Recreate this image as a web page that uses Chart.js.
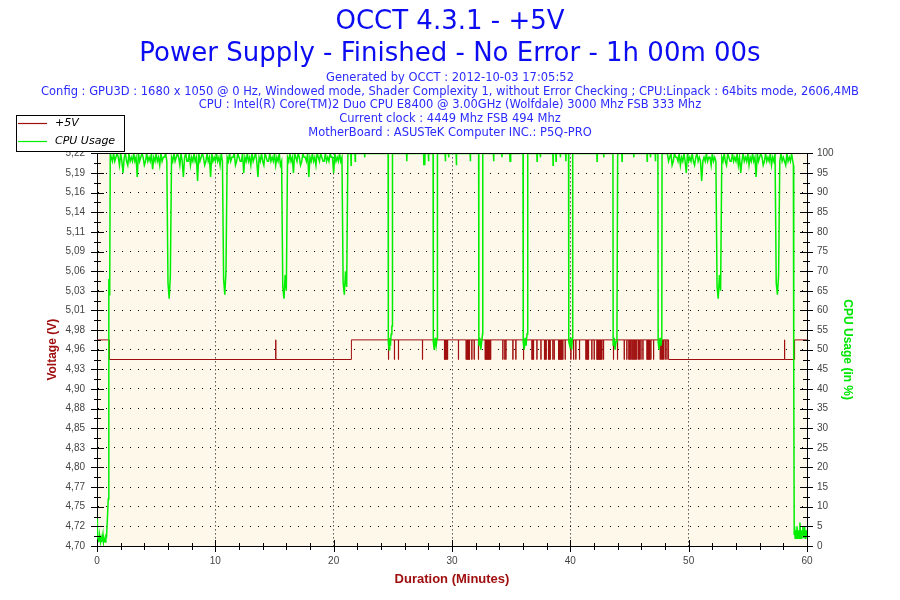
<!DOCTYPE html>
<html>
<head>
<meta charset="utf-8">
<title>OCCT 4.3.1 - +5V</title>
<script src="https://cdn.jsdelivr.net/npm/chart.js@4.4.0/dist/chart.umd.min.js"></script>
<style>
  html, body { margin: 0; padding: 0; background: #fff; }
</style>
</head>
<body>
<canvas id="occtChart" width="900" height="600"></canvas>
<script>
const titleLines = ["OCCT 4.3.1 - +5V", "Power Supply - Finished - No Error - 1h 00m 00s"];
const infoLines = [
  "Generated by OCCT : 2012-10-03 17:05:52",
  "Config : GPU3D : 1680 x 1050 @ 0 Hz, Windowed mode, Shader Complexity 1, without Error Checking ; CPU:Linpack : 64bits mode, 2606,4MB",
  "CPU : Intel(R) Core(TM)2 Duo CPU E8400 @ 3.00GHz (Wolfdale) 3000 Mhz FSB 333 Mhz",
  "Current clock : 4449 Mhz FSB 494 Mhz",
  "MotherBoard : ASUSTeK Computer INC.: P5Q-PRO"
];

// left axis, 20 equal steps between 4.70 and 5.22 (labels as OCCT prints them)
const voltTickValues = [4.70, 4.726, 4.752, 4.778, 4.804, 4.83, 4.856, 4.882, 4.908, 4.934, 4.96,
  4.986, 5.012, 5.038, 5.064, 5.09, 5.116, 5.142, 5.168, 5.194, 5.22];
const voltTickLabels = ["4,70", "4,72", "4,75", "4,77", "4,80", "4,83", "4,85", "4,88", "4,90", "4,93", "4,96",
  "4,98", "5,01", "5,03", "5,06", "5,09", "5,11", "5,14", "5,16", "5,19", "5,22"];

// +5V: the sensor only shows two readings
const voltLow = 4.947;
const voltHigh = 4.973;
// [minute, volts] level held from that minute on
const voltPhases = [[0, voltHigh], [1.05, voltLow], [21.5, voltHigh], [48.3, voltLow], [58.95, voltHigh], [60, voltHigh]];
// minutes where the reading flips to the other level for one sample
const voltFlickers = [15.1, 24.63, 25.13, 25.47, 27.5, 29.36, 29.42, 29.48, 29.55, 29.62, 30.54,
  31.19, 31.25, 31.31, 31.37, 31.43, 31.47, 31.67, 31.87, 32.23,
  32.80, 32.85, 32.90, 32.96, 33.02, 33.08, 33.14, 33.20, 33.26, 34.29, 34.46, 34.55, 35.14, 35.39,
  36.04, 36.75, 36.82, 36.88, 37.17, 37.51, 37.81, 37.88, 37.95, 38.15, 38.22, 38.29, 38.52, 38.63,
  39.00, 39.06, 39.12, 39.18, 39.24, 39.30, 39.36, 39.56, 40.04, 40.27, 40.46, 40.77,
  41.31, 41.38, 41.45, 41.53, 41.81, 42.01, 42.24, 42.30, 42.36, 42.42, 42.48, 42.54, 42.60, 42.66,
  42.80, 43.64, 43.98, 44.55, 44.77, 44.94, 45.02, 45.10, 45.20, 45.28, 45.36, 45.44, 45.52, 45.61,
  45.75, 45.85, 45.96, 46.13, 46.47, 46.53, 46.59, 46.65, 46.71, 46.80, 47.03,
  47.59, 47.68, 47.78, 47.87, 48.01, 48.16, 58.1];
const sampleLength = 1 / 60; // one second, in minutes

// CPU usage [minute, %]
const cpuStartup = [[0, 7], [0.03, 2], [0.1, 2], [0.15, 1], [0.2, 3], [0.3, 1], [0.35, 2], [0.4, 1], [0.5, 3],
  [0.55, 1], [0.6, 2], [0.7, 1], [0.75, 3], [0.8, 2], [0.88, 7], [0.95, 12], [1.0, 68], [1.03, 64],
  [1.06, 70], [1.09, 66], [1.12, 100]];

// busy stretches, one reading every 0.1 minute
const busyStep = 0.1;
const cpuBusyAStart = 1.2;
const cpuBusyA = [
  99, 98, 100, 98, 99, 100, 99, 97, 100, 98,
  95, 99, 100, 98, 97, 100, 98, 99, 98, 100,
  98, 99, 94, 100, 98, 99, 100, 99, 97, 98,
  100, 98, 99, 98, 100, 96, 99, 98, 100, 98,
  99, 97, 100, 98, 99, 99, 100, 98, 67, 63,
  69, 99, 98, 100, 98, 99, 100, 99, 97, 100,
  98, 94, 99, 100, 98, 98, 100, 97, 99, 98,
  100, 98, 99, 93, 100, 98, 99, 100, 99, 97,
  98, 100, 98, 99, 94, 100, 98, 99, 98, 100,
  98, 99, 97, 100, 98, 68, 64, 70, 99, 98,
  100, 98, 99, 99, 100, 97, 98, 100, 99, 98,
  98, 100, 95, 99, 98, 100, 98, 99, 97, 100,
  98, 99, 100, 98, 94, 99, 98, 100, 98, 97,
  100, 99, 98, 98, 100, 98, 99, 98, 100, 97,
  99, 98, 100, 97, 98, 66, 63, 69, 65, 99,
  98, 100, 98, 99, 95, 100, 99, 98, 100, 99,
  97, 98, 100, 99, 99, 98, 100, 94, 99, 98,
  100, 98, 99, 97, 100, 99, 98, 100, 99, 98,
  98, 100, 98, 99, 98, 100, 99, 99, 95, 100,
  98, 99, 98, 100, 98, 99, 67, 64, 70, 66
];

// steady 100 % with short drops while the GPU test reloads
const cpuSteady = [[21.2, 100], [21.45, 100], [21.47, 97], [21.49, 100], [21.8, 100], [21.82, 98], [21.84, 100],
  [22.6, 100], [22.62, 99], [22.64, 100],
  [24.6, 100], [24.62, 52], [24.68, 50], [24.74, 53], [24.8, 51], [24.86, 54], [24.92, 56], [24.95, 56], [24.97, 100],
  [26.16, 100], [26.18, 98], [26.2, 100], [27.6, 100], [27.62, 97], [27.66, 99], [27.7, 97], [27.72, 100],
  [28.0, 100], [28.02, 98], [28.04, 100],
  [28.4, 100], [28.42, 52], [28.5, 50], [28.58, 53], [28.66, 51], [28.74, 53], [28.77, 100],
  [29.42, 100], [29.44, 98], [29.46, 100], [29.7, 100], [29.72, 99], [29.74, 100],
  [30.35, 100], [30.37, 97], [30.39, 100], [31.53, 100], [31.55, 98], [31.57, 100],
  [32.25, 100], [32.27, 51], [32.35, 53], [32.43, 50], [32.51, 52], [32.58, 54], [32.6, 100],
  [33.5, 100], [33.52, 98], [33.54, 100], [34.2, 100], [34.22, 99], [34.24, 100],
  [34.88, 100], [34.9, 98], [34.94, 98], [34.96, 100],
  [36.0, 100], [36.02, 52], [36.1, 50], [36.18, 53], [36.26, 51], [36.34, 54], [36.4, 100],
  [37.17, 100], [37.19, 98], [37.21, 100], [37.45, 100], [37.47, 99], [37.49, 100],
  [38.52, 100], [38.54, 97], [38.56, 100], [38.77, 100], [38.79, 98], [38.81, 100],
  [39.14, 100], [39.16, 99], [39.18, 100], [39.6, 100], [39.62, 98], [39.64, 100],
  [39.85, 100], [39.87, 52], [39.95, 51], [40.03, 53], [40.11, 50], [40.18, 53], [40.2, 100],
  [42.24, 100], [42.26, 98], [42.28, 100], [42.8, 100], [42.82, 99], [42.84, 100],
  [43.6, 100], [43.62, 51], [43.7, 53], [43.78, 50], [43.86, 52], [43.94, 54], [44.0, 100],
  [44.35, 100], [44.37, 98], [44.39, 100], [45.34, 100], [45.36, 99], [45.38, 100],
  [46.47, 100], [46.49, 98], [46.51, 100], [46.75, 100], [46.77, 99], [46.79, 100],
  [47.17, 100], [47.19, 98], [47.21, 100],
  [47.4, 100], [47.42, 52], [47.5, 50], [47.58, 53], [47.66, 51], [47.73, 53], [47.75, 100],
  [48.2, 100]];

const cpuBusyBStart = 48.3;
const cpuBusyB = [
  98, 99, 100, 97, 98, 100, 99, 99, 98, 100,
  97, 99, 98, 100, 98, 95, 100, 98, 99, 98,
  100, 98, 97, 99, 100, 98, 99, 98, 93, 98,
  99, 98, 100, 98, 99, 99, 97, 100, 98, 99,
  98, 66, 63, 69, 65, 99, 98, 100, 98, 97,
  100, 99, 98, 98, 100, 98, 99, 98, 100, 97,
  99, 95, 98, 100, 98, 99, 98, 100, 97, 99,
  98, 100, 98, 99, 94, 100, 98, 99, 100, 99,
  97, 98, 100, 98, 99, 98, 100, 97, 99, 98,
  100, 67, 64, 69, 98, 100, 98, 99, 98, 97,
  100, 98, 99, 98, 100, 98
];

const cpuShutdown = [[58.85, 97], [58.86, 44], [58.9, 43], [58.92, 3], [58.95, 5], [59.0, 2], [59.05, 4],
  [59.1, 2], [59.15, 5], [59.2, 3], [59.25, 2], [59.3, 4], [59.35, 2], [59.4, 6], [59.45, 3], [59.5, 2],
  [59.55, 4], [59.6, 3], [59.65, 5], [59.7, 2], [59.75, 3], [59.8, 5], [59.85, 2], [59.9, 4], [59.95, 3], [60, 4]];

// ---- build the point lists ----
function levelAt(t) {
  let level = voltPhases[0][1];
  voltPhases.forEach(([m, v]) => { if (m <= t) level = v; });
  return level;
}
const voltPoints = voltPhases.map(([m, v]) => ({ x: m, y: v }));
voltFlickers.forEach(t => {
  const base = levelAt(t);
  const other = base === voltHigh ? voltLow : voltHigh;
  voltPoints.push({ x: t, y: other }, { x: t + sampleLength, y: base });
});
voltPoints.sort((a, b) => a.x - b.x);

const pairs = list => list.map(([m, v]) => ({ x: m, y: v }));
const run = (start, values) => values.map((v, i) => ({ x: +(start + i * busyStep).toFixed(2), y: v }));
const cpuPoints = [].concat(
  pairs(cpuStartup), run(cpuBusyAStart, cpuBusyA), pairs(cpuSteady),
  run(cpuBusyBStart, cpuBusyB), pairs(cpuShutdown)
);

const voltColor = '#a00f0f';
const cpuColor = '#00ee00';

// ---- plugins ----
const plotBackground = {
  id: 'plotBackground',
  beforeDraw(chart) {
    const { ctx, chartArea: a } = chart;
    ctx.save();
    ctx.fillStyle = '#ffffff';
    ctx.fillRect(0, 0, chart.width, chart.height);
    ctx.fillStyle = '#fdf8ea';
    ctx.fillRect(a.left, a.top, a.right - a.left, a.bottom - a.top);
    ctx.restore();
  }
};

// top frame line + tick marks crossing the axes (major and minor)
const frameTicks = {
  id: 'frameTicks',
  afterDatasetsDraw(chart) {
    const { ctx, chartArea: a, scales } = chart;
    const px = v => Math.round(v) + 0.5;
    ctx.save();
    ctx.strokeStyle = '#000';
    ctx.lineWidth = 1;
    ctx.beginPath();
    ctx.moveTo(a.left, px(a.top));
    ctx.lineTo(a.right + 1, px(a.top));
    const marks = (scale, splits, draw) => {
      const vals = scale.ticks.map(t => t.value);
      vals.forEach((v, i) => {
        draw(scale.getPixelForValue(v), true);
        if (i < vals.length - 1) {
          for (let k = 1; k < splits; k++) {
            draw(scale.getPixelForValue(v + (vals[i + 1] - v) * k / splits), false);
          }
        }
      });
    };
    marks(scales.x, 5, (p, major) => {
      ctx.moveTo(px(p), a.bottom - (major ? 6 : 3));
      ctx.lineTo(px(p), a.bottom + (major ? 6 : 4));
    });
    marks(scales.yVolt, 2, (p, major) => {
      ctx.moveTo(a.left - (major ? 6 : 3), px(p));
      ctx.lineTo(a.left + (major ? 7 : 4), px(p));
    });
    marks(scales.yCpu, 2, (p, major) => {
      ctx.moveTo(a.right - (major ? 7 : 4), px(p));
      ctx.lineTo(a.right + (major ? 6 : 3), px(p));
    });
    ctx.stroke();
    ctx.restore();
  }
};

// boxed legend in the top left corner
const legendBox = {
  id: 'legendBox',
  afterDraw(chart) {
    const ctx = chart.ctx;
    ctx.save();
    ctx.fillStyle = '#fff';
    ctx.fillRect(16, 115, 108, 36);
    ctx.strokeStyle = '#000';
    ctx.lineWidth = 1;
    ctx.strokeRect(16.5, 115.5, 108, 36);
    ctx.font = 'italic 11px "DejaVu Sans"';
    ctx.textBaseline = 'middle';
    chart.data.datasets.forEach((ds, i) => {
      const y = 123.5 + i * 18;
      ctx.beginPath();
      ctx.strokeStyle = ds.borderColor;
      ctx.lineWidth = 1.2;
      ctx.moveTo(18, y);
      ctx.lineTo(47, y);
      ctx.stroke();
      ctx.fillStyle = '#000';
      ctx.fillText(ds.label, 55, y);
    });
    ctx.restore();
  }
};

const tickFont = { family: 'Liberation Sans', size: 10 };
const tickColor = '#444';

new Chart(document.getElementById('occtChart'), {
  type: 'line',
  data: {
    datasets: [{
      label: '+5V',
      data: voltPoints,
      yAxisID: 'yVolt',
      borderColor: voltColor,
      borderWidth: 1,
      stepped: true,
      pointRadius: 0,
      order: 2
    }, {
      label: 'CPU Usage',
      data: cpuPoints,
      yAxisID: 'yCpu',
      borderColor: cpuColor,
      borderWidth: 1.5,
      pointRadius: 0,
      tension: 0,
      order: 1
    }]
  },
  options: {
    responsive: false,
    animation: false,
    devicePixelRatio: 1,
    events: [],
    layout: { padding: 0 },
    plugins: {
      legend: { display: false },
      tooltip: { enabled: false },
      title: {
        display: true,
        text: titleLines,
        color: '#0c0cf2',
        font: { family: 'DejaVu Sans', size: 26, weight: 'normal', lineHeight: 1.2 },
        padding: { top: 7, bottom: 1.5 }
      },
      subtitle: {
        display: true,
        text: infoLines,
        color: '#2b2bff',
        font: { family: 'DejaVu Sans', size: 11.5, lineHeight: 1.2 },
        padding: { top: 0, bottom: 13.5 }
      }
    },
    scales: {
      x: {
        type: 'linear',
        position: 'bottom',
        min: 0,
        max: 60,
        ticks: { stepSize: 10, color: tickColor, font: tickFont, padding: 9, maxRotation: 0, autoSkip: false },
        grid: { color: '#000', lineWidth: 1, drawTicks: false },
        border: { color: '#000', width: 1, dash: [1, 3] },
        title: {
          display: true,
          text: 'Duration (Minutes)',
          color: voltColor,
          font: { family: 'Liberation Sans', size: 13, weight: 'bold' },
          padding: { top: 0, bottom: 13 }
        },
        afterFit(scale) { scale.height = 54; }
      },
      yVolt: {
        type: 'linear',
        position: 'left',
        min: 4.70,
        max: 5.22,
        afterBuildTicks(scale) { scale.ticks = voltTickValues.map(v => ({ value: v })); },
        ticks: {
          color: tickColor,
          font: tickFont,
          padding: 12,
          autoSkip: false,
          callback: (value, index) => voltTickLabels[index]
        },
        grid: { color: '#000', lineWidth: 1, drawTicks: false },
        border: { color: '#000', width: 1, dash: [1, 7] },
        title: {
          display: true,
          text: 'Voltage (V)',
          color: voltColor,
          font: { family: 'Liberation Sans', size: 12, weight: 'bold' },
          padding: { top: 45, bottom: 0 }
        },
        afterFit(scale) { scale.width = 97; }
      },
      yCpu: {
        type: 'linear',
        position: 'right',
        min: 0,
        max: 100,
        ticks: { stepSize: 5, color: tickColor, font: tickFont, padding: 10, autoSkip: false },
        grid: { drawOnChartArea: false, drawTicks: false },
        border: { color: '#000', width: 1 },
        title: {
          display: true,
          text: 'CPU Usage (in %)',
          color: '#00e600',
          font: { family: 'Liberation Sans', size: 12, weight: 'bold' },
          padding: { top: 45, bottom: 0 }
        },
        afterFit(scale) { scale.width = 93; }
      }
    }
  },
  plugins: [plotBackground, frameTicks, legendBox]
});
</script>
</body>
</html>
